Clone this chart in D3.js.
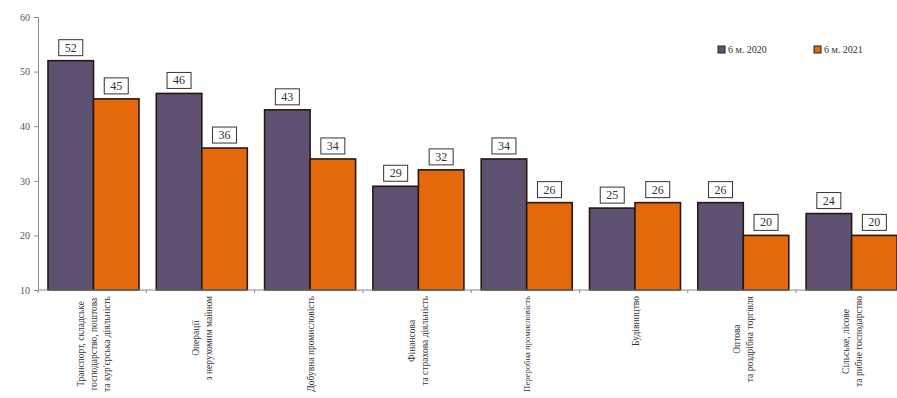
<!DOCTYPE html>
<html>
<head>
<meta charset="utf-8">
<script src="https://cdn.jsdelivr.net/npm/d3@7"></script>
<style>
  html, body { margin: 0; padding: 0; background: #fff; }
  svg { display: block; }
</style>
</head>
<body>
<svg id="chart" width="897" height="398"></svg>
<script>
// Sector labels (line breaks as they are printed under the axis)
const categories = [
  ["Транспорт, складське", "господарство, поштова", "та кур'єрська діяльність"],
  ["Операції", "з нерухомим майном"],
  ["Добувна промисловість"],
  ["Фінансова", "та страхова діяльність"],
  ["Переробна промисловість"],
  ["Будівництво"],
  ["Оптова", "та роздрібна торгівля"],
  ["Сільське, лісове", "та рибне господарство"]
];
const seriesNames = ["6 м. 2020", "6 м. 2021"];
const values2020 = [52, 46, 43, 29, 34, 25, 26, 24];
const values2021 = [45, 36, 34, 32, 26, 26, 20, 20];
const yTicks = [10, 20, 30, 40, 50, 60];

const colors = ["#5f5171", "#e4690c"];
const series = [values2020, values2021];
const serif = "'Liberation Serif', 'Times New Roman', 'DejaVu Serif', serif";

const svg = d3.select("#chart");
const plotLeft = 38, plotBottom = 290, plotTop = 17;
const step = 108.3;

const x = d3.scaleBand()
  .domain(d3.range(categories.length))
  .range([plotLeft, plotLeft + step * categories.length])
  .paddingInner(0).paddingOuter(0);

const y = d3.scaleLinear().domain([10, 60]).range([plotBottom, plotTop]);

const barW = 45.5, offset = 10;

// Y axis
const yAxis = svg.append("g")
  .attr("transform", `translate(${plotLeft},0)`)
  .call(d3.axisLeft(y).tickValues(yTicks).tickSize(4).tickPadding(4).tickFormat(d3.format("d")));
yAxis.attr("font-family", serif);
yAxis.select(".domain").attr("stroke", "#8a8a8a");
yAxis.selectAll(".tick line").attr("stroke", "#8a8a8a");
yAxis.selectAll(".tick text").attr("fill", "#555").attr("font-size", 10)
  .attr("font-family", serif);

// Bars
const groups = svg.append("g").selectAll("g")
  .data(categories.map((c, i) => i))
  .join("g");

series.forEach((vals, s) => {
  groups.append("rect")
    .attr("x", i => x(i) + offset + s * barW)
    .attr("y", i => y(vals[i]))
    .attr("width", barW)
    .attr("height", i => plotBottom - y(vals[i]))
    .attr("fill", colors[s])
    .attr("stroke", "#2a1810")
    .attr("stroke-width", 1.6);
});

// X axis line and category boundary ticks
svg.append("line")
  .attr("x1", plotLeft).attr("x2", 897)
  .attr("y1", plotBottom).attr("y2", plotBottom)
  .attr("stroke", "#8a8a8a");
svg.append("g").selectAll("line")
  .data(d3.range(categories.length + 1))
  .join("line")
  .attr("x1", i => plotLeft + i * step).attr("x2", i => plotLeft + i * step)
  .attr("y1", plotBottom).attr("y2", plotBottom + 3)
  .attr("stroke", "#8a8a8a");

// Value boxes above bars
series.forEach((vals, s) => {
  const g = groups.append("g")
    .attr("transform", i => `translate(${x(i) + offset + s * barW + barW / 2},${y(vals[i]) - 4})`);
  g.append("rect")
    .attr("x", -12).attr("y", -17)
    .attr("width", 24).attr("height", 16)
    .attr("fill", "#fff")
    .attr("stroke", "#333")
    .attr("stroke-width", 1);
  g.append("text")
    .attr("text-anchor", "middle")
    .attr("y", -5)
    .attr("fill", "#333")
    .attr("font-family", serif)
    .attr("font-size", 12)
    .text(i => vals[i]);
});

// Rotated category labels, lines centered within a block that hangs from the axis
const lineH = 13, maxBlock = 96;
categories.forEach((lines, i) => {
  const cx = x(i) + offset + barW;
  const g = svg.append("g");
  const texts = lines.map(ln => g.append("text")
    .attr("fill", "#333")
    .attr("font-family", serif)
    .attr("font-size", 9.5)
    .text(ln));
  let maxLen = d3.max(texts, t => t.node().getComputedTextLength());
  if (maxLen > maxBlock) {
    const fs = 9.5 * maxBlock / maxLen;
    texts.forEach(t => t.attr("font-size", fs));
    maxLen = maxBlock;
  }
  const cy = plotBottom + 6 + maxLen / 2;
  const n = lines.length;
  texts.forEach((t, k) => {
    const lx = cx + (k - (n - 1) / 2) * lineH + 3.5;
    t.attr("text-anchor", "middle")
      .attr("transform", `translate(${lx},${cy}) rotate(-90)`);
  });
});

// Legend
const legend = svg.append("g");
const legendX = [718, 814];
seriesNames.forEach((name, s) => {
  legend.append("rect")
    .attr("x", legendX[s]).attr("y", 46)
    .attr("width", 7).attr("height", 7)
    .attr("fill", colors[s])
    .attr("stroke", "#222").attr("stroke-width", 1);
  legend.append("text")
    .attr("x", legendX[s] + 10).attr("y", 53)
    .attr("fill", "#333")
    .attr("font-family", serif)
    .attr("font-size", 10)
    .text(name);
});
</script>
</body>
</html>
